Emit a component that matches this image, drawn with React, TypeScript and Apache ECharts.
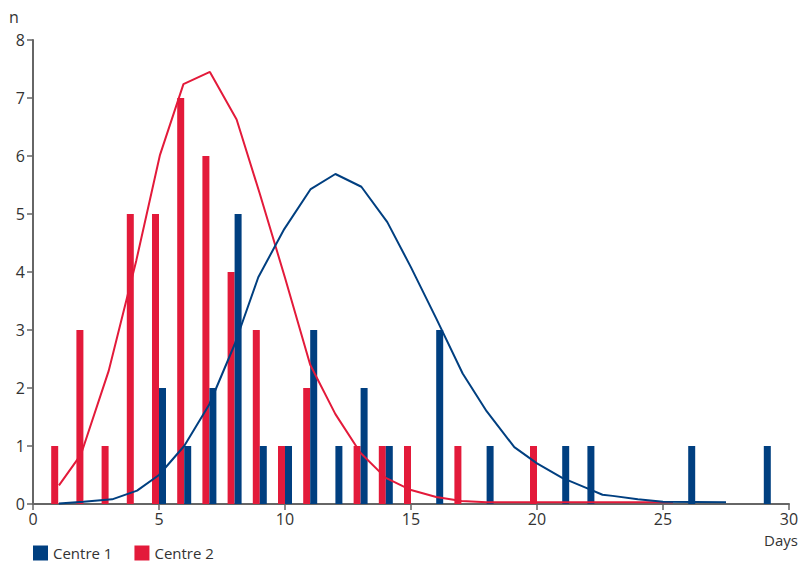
import React, { useEffect, useRef } from "react";
import * as echarts from "echarts";

// Day counts (bars)
const centre1Bars: [number, number][] = [
  [5, 2], [6, 1], [7, 2], [8, 5], [9, 1], [10, 1], [11, 3], [12, 1], [13, 2], [14, 1],
  [16, 3], [18, 1], [21, 1], [22, 1], [26, 1], [29, 1],
];
const centre2Bars: [number, number][] = [
  [1, 1], [2, 3], [3, 1], [4, 5], [5, 5], [6, 7], [7, 6], [8, 4], [9, 3], [10, 1],
  [11, 2], [13, 1], [14, 1], [15, 1], [17, 1], [20, 1],
];

// Fitted curves
const centre1Curve: [number, number][] = [
  [1.03, 0.01], [2, 0.04], [3.14, 0.08], [4.13, 0.23], [5, 0.5], [6, 1.0], [7, 1.72],
  [8, 2.75], [8.94, 3.91], [9.97, 4.74], [11.02, 5.43], [12.0, 5.69], [13.03, 5.47],
  [14.06, 4.86], [15.0, 4.08], [16, 3.2], [17.05, 2.25], [18, 1.6], [19.1, 0.98],
  [20, 0.7], [21, 0.45], [22, 0.27], [22.6, 0.16], [23, 0.14], [24, 0.08], [25, 0.04],
  [27.5, 0.03],
];
const centre2Curve: [number, number][] = [
  [1.03, 0.32], [1.9, 0.85], [3.0, 2.29], [4.1, 4.2], [5.04, 6.02], [5.97, 7.24],
  [7.02, 7.45], [8.08, 6.63], [9.0, 5.35], [10.0, 3.9], [11.0, 2.4], [12.0, 1.55],
  [13.0, 0.88], [14.0, 0.45], [15.0, 0.24], [16.0, 0.12], [17.0, 0.05], [18, 0.03],
  [25.4, 0.03],
];

const xTicks = { min: 0, max: 30, interval: 5 };
const yTicks = { min: 0, max: 8, interval: 1 };

const BLUE = "#003f80";
const RED = "#e31a3a";
const FONT = "'Open Sans', 'Noto Sans', sans-serif";

export default function App() {
  const ref = useRef<HTMLDivElement>(null);
  useEffect(() => {
    if (!ref.current) return;
    const chart = echarts.init(ref.current, null, { renderer: "svg" });
    chart.setOption({
      animation: false,
      grid: { left: 33, right: 14, top: 40, bottom: 62, containLabel: false },
      legend: {
        data: ["Centre 1", "Centre 2"],
        left: 33,
        top: 545,
        padding: 0,
        itemWidth: 15,
        itemHeight: 15,
        itemGap: 22,
        icon: "rect",
        textStyle: { fontFamily: FONT, fontSize: 15, color: "#333", lineHeight: 16 },
      },
      xAxis: {
        type: "value",
        min: xTicks.min,
        max: xTicks.max,
        interval: xTicks.interval,
        axisLine: { lineStyle: { color: "#666", width: 2 } },
        axisTick: { show: true, length: 6, lineStyle: { color: "#666", width: 1.5 } },
        axisLabel: { fontFamily: FONT, fontSize: 16, color: "#333", margin: 7 },
        splitLine: { show: false },
      },
      yAxis: {
        type: "value",
        min: yTicks.min,
        max: yTicks.max,
        interval: yTicks.interval,
        axisLine: { show: true, lineStyle: { color: "#666", width: 2 } },
        axisTick: { show: true, length: 6, lineStyle: { color: "#666", width: 1.5 } },
        axisLabel: { fontFamily: FONT, fontSize: 16, color: "#333", margin: 8 },
        splitLine: { show: false },
      },
      graphic: [
        { type: "text", left: 9, top: 9, style: { text: "n", fontFamily: FONT, fontSize: 16, fill: "#333" } },
        { type: "text", right: 5, top: 532, style: { text: "Days", fontFamily: FONT, fontSize: 15, fill: "#333" } },
      ],
      series: [
        {
          name: "Centre 2",
          type: "bar",
          data: centre2Bars,
          barWidth: 7,
          barGap: "0%",
          itemStyle: { color: RED },
        },
        {
          name: "Centre 1",
          type: "bar",
          data: centre1Bars,
          barWidth: 7,
          barGap: "0%",
          itemStyle: { color: BLUE },
        },
        {
          name: "Centre 2 fit",
          type: "line",
          data: centre2Curve,
          showSymbol: false,
          symbol: "none",
          lineStyle: { color: RED, width: 2 },
          z: 5,
        },
        {
          name: "Centre 1 fit",
          type: "line",
          data: centre1Curve,
          showSymbol: false,
          symbol: "none",
          lineStyle: { color: BLUE, width: 2 },
          z: 5,
        },
      ],
    });
    return () => chart.dispose();
  }, []);
  return <div ref={ref} style={{ width: 803, height: 566, position: "absolute", left: 0, top: 0 }} />;
}
